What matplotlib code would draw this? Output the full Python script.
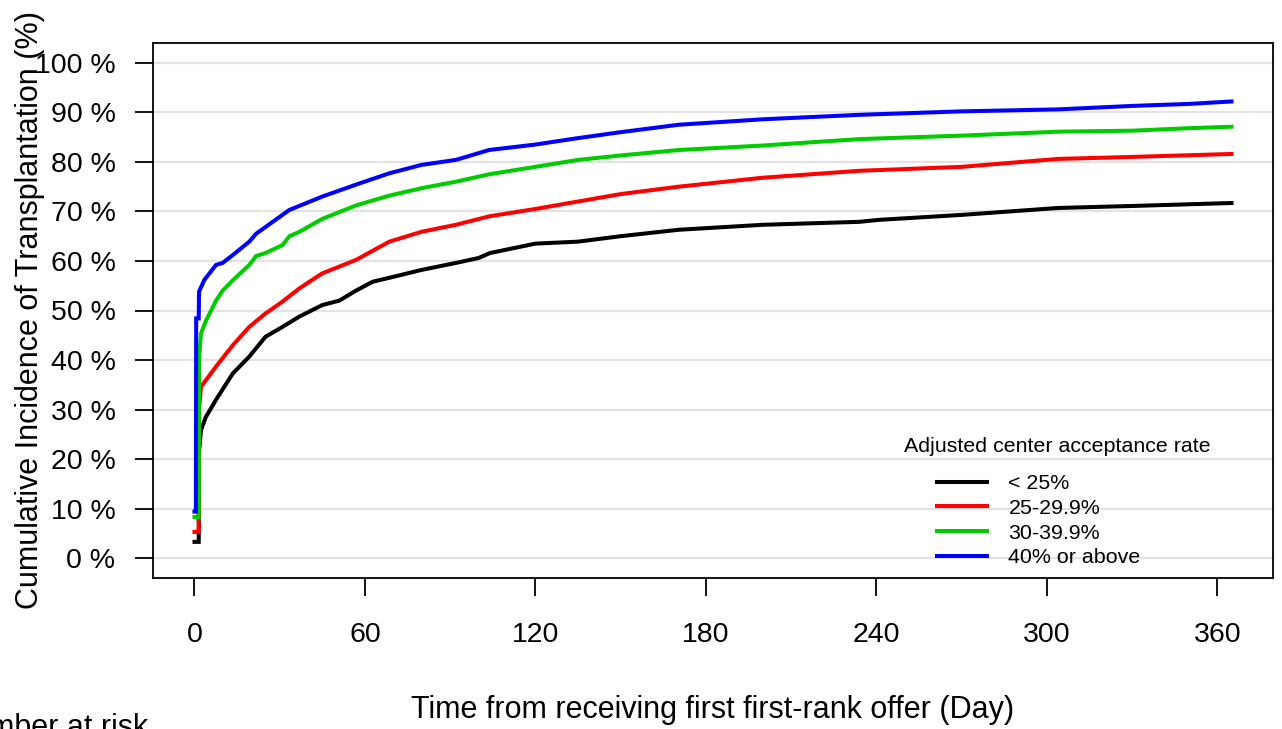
import matplotlib
matplotlib.use("Agg")
import matplotlib.pyplot as plt

plt.rcParams['font.family'] = ['Liberation Sans', 'DejaVu Sans']

# ---- data ----
days_black = [0, 1.5, 1.6, 2.3, 4, 7.6, 13.5, 19.3, 25, 31, 37, 45, 51, 56.8, 62.7, 70, 80, 92, 100, 104,
              120, 135, 150, 170.5, 200, 234, 241, 270, 304, 330, 365]
cif_black = [3.3, 3.3, 21.5, 25.9, 28.5, 32, 37.3, 40.7, 44.7, 46.7, 48.8, 51.1, 52, 54, 55.8, 56.8, 58.2,
             59.6, 60.6, 61.6, 63.5, 63.9, 65, 66.3, 67.3, 67.9, 68.3, 69.3, 70.7, 71.1, 71.7]

days_red = [0, 1.5, 1.6, 2.3, 7.6, 13.5, 19.3, 25, 31, 37, 45, 56.8, 68.6, 80, 92, 103.7, 120, 135, 150,
            170.5, 200, 234, 270, 304, 330, 365]
cif_red = [5.3, 5.3, 30, 34.6, 38.7, 43, 46.7, 49.4, 51.8, 54.5, 57.5, 60.2, 63.9, 65.9, 67.3, 69.0, 70.5,
           72, 73.5, 75, 76.8, 78.2, 79, 80.6, 81, 81.6]

days_green = [0, 1.5, 1.6, 2.3, 4.1, 7.6, 9.9, 13.5, 19.3, 21.7, 25, 31, 33.4, 37, 45, 56.8, 68.6, 80, 92,
              103.7, 120, 135, 150, 170.5, 200, 234, 270, 304, 330, 350, 365]
cif_green = [8.3, 8.3, 40.4, 45.4, 48, 52, 54, 56.1, 59.2, 61, 61.6, 63.2, 65, 65.9, 68.5, 71.2, 73.2, 74.7,
             76, 77.5, 79, 80.4, 81.3, 82.4, 83.3, 84.6, 85.3, 86.1, 86.3, 86.8, 87.1]

days_blue = [0, 0.5, 0.6, 1.5, 1.6, 3.5, 7.6, 9.9, 13.5, 19.3, 21.7, 33.4, 45, 56.8, 68.6, 80, 92, 103.7,
             120, 135, 150, 170.5, 200, 234, 270, 304, 330, 350, 365]
cif_blue = [9.4, 9.4, 48.4, 48.4, 53.8, 56.2, 59.2, 59.6, 61.2, 63.9, 65.5, 70.3, 73, 75.4, 77.7, 79.4,
            80.4, 82.4, 83.5, 84.8, 86, 87.5, 88.6, 89.5, 90.2, 90.6, 91.3, 91.7, 92.2]

group_labels = ["< 25%", "25-29.9%", "30-39.9%", "40% or above"]
group_colors = ["#000000", "#FF0000", "#00CC00", "#0000FF"]
x_ticks = [0, 60, 120, 180, 240, 300, 360]
y_ticks = [0, 10, 20, 30, 40, 50, 60, 70, 80, 90, 100]
y_tick_labels = [f"{v} %" for v in y_ticks]

# ---- figure ----
W, H = 1282, 729
fig = plt.figure(figsize=(W / 100, H / 100), dpi=100)
ax = fig.add_axes([153 / W, 1 - 578 / H, (1273 - 153) / W, (578 - 43) / H])

for v in y_ticks:
    ax.axhline(v, color="#E3E3E3", lw=1.6, zorder=0)

series = [(days_black, cif_black), (days_red, cif_red), (days_green, cif_green), (days_blue, cif_blue)]
for (d, c), lab, col in zip(series, group_labels, group_colors):
    ax.plot(d, c, color=col, lw=2.9, label=lab, solid_joinstyle="miter", zorder=3)

ax.set_xlim(-14.6, 379.6)
ax.set_ylim(-4, 104)
ax.set_xticks(x_ticks)
ax.set_yticks(y_ticks)
ax.set_yticklabels(y_tick_labels)
ax.tick_params(axis="both", direction="out", length=13, width=1.3, labelsize=20.5, color="black")
ax.tick_params(axis="y", pad=14)
ax.tick_params(axis="x", pad=19)
for s in ax.spines.values():
    s.set_linewidth(1.3)
    s.set_color("black")

fig.text(713 / W, 1 - 710 / H, "Time from receiving first first-rank offer (Day)", fontsize=22,
         ha="center", va="center")
fig.text(30 / W, 1 - 310 / H, "Cumulative Incidence of Transplantation (%)", rotation=90,
         fontsize=22, ha="center", va="center")

# legend
fig.text(1057 / W, 1 - 447 / H, "Adjusted center acceptance rate", fontsize=15.4, ha="center", va="center")
leg = ax.legend(loc="upper left", bbox_to_anchor=(937 / W, 1 - 474 / H), bbox_transform=fig.transFigure,
                frameon=False, fontsize=15.4, handlelength=2.34, handletextpad=1.0, labelspacing=0.27,
                borderpad=0, borderaxespad=0)
for line in leg.get_lines():
    line.set_linewidth(2.9)

# cut-off "Number at risk" text at bottom-left (as in the reference)
fig.text(148 / W, 1 - 736 / H, "Number at risk", fontsize=22, ha="right", va="baseline")

fig.savefig("out.png", dpi=100)
